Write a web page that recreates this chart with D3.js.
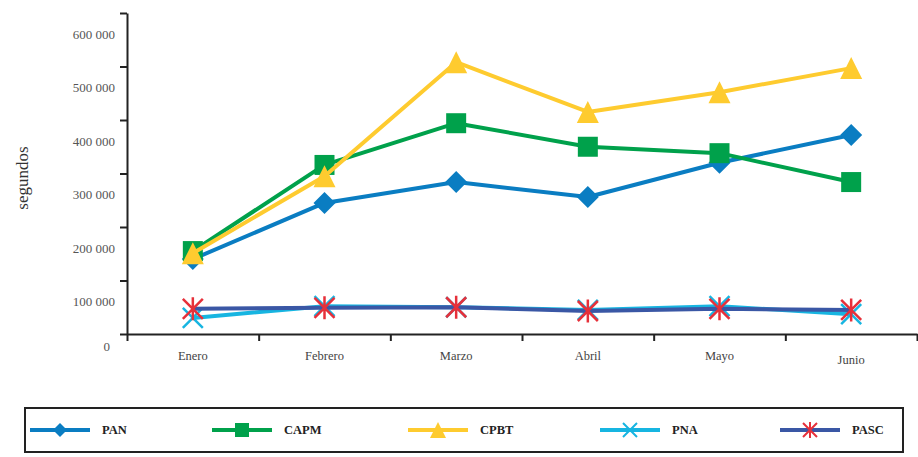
<!DOCTYPE html>
<html>
<head>
<meta charset="utf-8">
<script src="https://cdn.jsdelivr.net/npm/d3@7"></script>
<style>
  body { margin: 0; background: #fff; }
  svg { display: block; font-family: "Liberation Serif", "DejaVu Serif", serif; }
</style>
</head>
<body>
<svg id="chart" width="918" height="457"></svg>
<script>
// data
var months = ['Enero', 'Febrero', 'Marzo', 'Abril', 'Mayo', 'Junio'];
var yTicks = [0, 100000, 200000, 300000, 400000, 500000, 600000];
var seriesNames = ['PAN', 'CAPM', 'CPBT', 'PNA', 'PASC'];
var pan  = [140000, 245000, 284000, 256000, 320000, 372000];
var capm = [155000, 316000, 394000, 350000, 338000, 284000];
var cpbt = [151000, 295000, 508000, 415000, 452000, 497000];
var pna  = [30000, 52000, 50000, 45000, 52000, 37000];
var pasc = [47000, 49000, 50000, 43000, 47000, 45000];

var series = [
  { name: 'PAN',  values: pan,  line: '#0a7dc2', mark: '#0a7dc2', shape: 'diamond' },
  { name: 'CAPM', values: capm, line: '#00a14b', mark: '#00a14b', shape: 'square' },
  { name: 'CPBT', values: cpbt, line: '#fecb2f', mark: '#fecb2f', shape: 'triangle' },
  { name: 'PNA',  values: pna,  line: '#17b5e1', mark: '#17b5e1', shape: 'cross' },
  { name: 'PASC', values: pasc, line: '#3a57a5', mark: '#e6303a', shape: 'star' }
];

// marker paths, centred on 0,0
var markerPath = function (shape, r) {
  if (shape == 'diamond') return 'M0,' + (-r) + 'L' + r + ',0L0,' + r + 'L' + (-r) + ',0Z';
  if (shape == 'square') return 'M' + (-r) + ',' + (-r) + 'H' + r + 'V' + r + 'H' + (-r) + 'Z';
  if (shape == 'triangle') return 'M0,' + (-r) + 'L' + r + ',' + r + 'L' + (-r) + ',' + r + 'Z';
  if (shape == 'cross') return 'M' + (-r) + ',' + (-r) + 'L' + r + ',' + r + 'M' + r + ',' + (-r) + 'L' + (-r) + ',' + r;
  // asterisk: X plus a vertical bar
  return 'M' + (-r) + ',' + (-r) + 'L' + r + ',' + r + 'M' + r + ',' + (-r) + 'L' + (-r) + ',' + r +
         'M0,' + (-r * 1.15) + 'V' + (r * 1.15);
};
var isStroked = function (shape) { return shape == 'cross' || shape == 'star'; };

var svg = d3.select('#chart');

var x = d3.scaleBand().domain(months).range([127, 917]);
var xTick = d3.scaleLinear().domain([0, months.length]).range([127, 917]);
var y = d3.scaleLinear().domain([0, 600000]).range([334, 13]);

// y axis
var fmt = function (d) { return d3.format(',')(d).replace(/,/g, ' '); };
var yAxis = svg.append('g')
  .attr('transform', 'translate(127,0)')
  .call(d3.axisLeft(y).tickValues(yTicks).tickSize(7).tickSizeOuter(0).tickPadding(5).tickFormat(fmt));
yAxis.select('.domain').attr('stroke', '#222').attr('stroke-width', 2);
yAxis.selectAll('.tick line').attr('stroke', '#222').attr('stroke-width', 2);
yAxis.selectAll('.tick text')
  .attr('fill', '#555')
  .attr('font-size', 13)
  .attr('font-family', '"Liberation Serif", serif')
  .attr('dy', function (d) { return d == 0 ? '16px' : '25px'; })
  .attr('x', function (d) { return d == 0 ? -17 : -12; });

// x axis
var xAxis = svg.append('g')
  .attr('transform', 'translate(0,334)')
  .call(d3.axisBottom(xTick).tickValues(d3.range(months.length + 1)).tickSize(7).tickSizeOuter(0).tickFormat(''));
xAxis.select('.domain').attr('stroke', '#222').attr('stroke-width', 2);
xAxis.selectAll('.tick line').attr('stroke', '#222').attr('stroke-width', 2);

svg.append('g').selectAll('text')
  .data(months)
  .enter().append('text')
  .attr('x', function (d) { return x(d) + x.bandwidth() / 2; })
  .attr('y', function (d) { return d == 'Junio' ? 364 : 360; })
  .attr('text-anchor', 'middle')
  .attr('font-size', 12.5)
  .attr('fill', '#444')
  .text(function (d) { return d; });

// y title
svg.append('text')
  .attr('transform', 'translate(28,178) rotate(-90)')
  .attr('text-anchor', 'middle')
  .attr('font-size', 17)
  .attr('fill', '#333')
  .text('segundos');

// lines and markers
var line = d3.line()
  .x(function (d, i) { return x(months[i]) + x.bandwidth() / 2; })
  .y(function (d) { return y(d); });

series.forEach(function (s) {
  var g = svg.append('g');
  g.append('path')
    .attr('d', line(s.values))
    .attr('fill', 'none')
    .attr('stroke', s.line)
    .attr('stroke-width', 4)
    .attr('stroke-linejoin', 'round');
  g.selectAll('path.m')
    .data(s.values)
    .enter().append('path')
    .attr('class', 'm')
    .attr('transform', function (d, i) { return 'translate(' + (x(months[i]) + x.bandwidth() / 2) + ',' + y(d) + ')'; })
    .attr('d', markerPath(s.shape, s.shape == 'diamond' ? 11 : s.shape == 'triangle' ? 11 : 10))
    .attr('fill', isStroked(s.shape) ? 'none' : s.mark)
    .attr('stroke', s.mark)
    .attr('stroke-width', isStroked(s.shape) ? 2.5 : 0);
});

// legend
svg.append('rect')
  .attr('x', 25).attr('y', 408).attr('width', 878).attr('height', 44)
  .attr('fill', 'none').attr('stroke', '#222').attr('stroke-width', 2);

var legendX = [30, 212, 408, 600, 780];
series.forEach(function (s, i) {
  var lg = svg.append('g').attr('transform', 'translate(' + legendX[i] + ',430)');
  lg.append('line')
    .attr('x1', 0).attr('x2', 60).attr('y1', 0).attr('y2', 0)
    .attr('stroke', s.line).attr('stroke-width', 4);
  lg.append('path')
    .attr('transform', 'translate(30,0)')
    .attr('d', markerPath(s.shape, s.shape == 'triangle' ? 8 : 7))
    .attr('fill', isStroked(s.shape) ? 'none' : s.mark)
    .attr('stroke', s.mark)
    .attr('stroke-width', isStroked(s.shape) ? 2 : 0);
  lg.append('text')
    .attr('x', 72).attr('y', 4)
    .attr('font-size', 12.5)
    .attr('font-weight', 'bold')
    .attr('fill', '#222')
    .text(s.name);
});
</script>
</body>
</html>
